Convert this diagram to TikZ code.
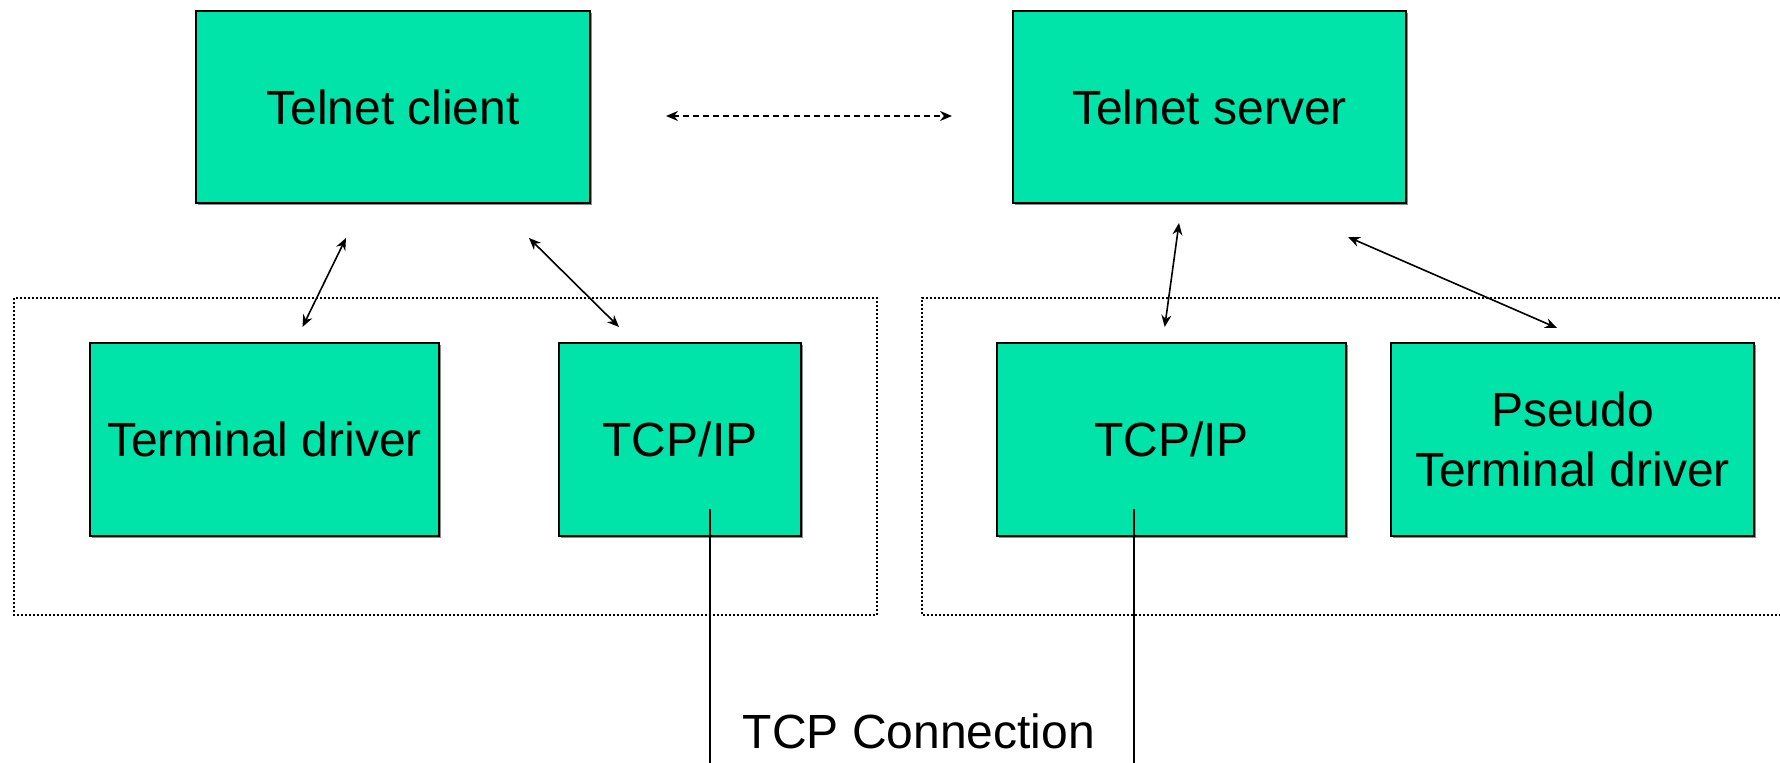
\documentclass[tikz,border=0pt]{standalone}
\usepackage{fontspec}
\setmainfont{Liberation Sans}
\usetikzlibrary{arrows.meta,shadows}
\definecolor{boxgreen}{RGB}{0,228,170}
\begin{document}
\begin{tikzpicture}[x=0.5pt,y=-0.5pt,
  box/.style={draw=black, line width=0.8pt, fill=boxgreen, inner sep=0pt,
    font=\fontsize{24}{30}\selectfont, align=center, text=black,
    general shadow={fill=black!45, shadow xshift=0.8pt, shadow yshift=-0.8pt}},
  lbl/.style={inner sep=0pt, font=\fontsize{24}{29}\selectfont, text=black},
  group/.style={draw=black, line width=0.7pt, dash pattern=on 1pt off 1pt},
  link/.style={draw=black, line width=0.8pt, {Stealth[length=6pt,width=5pt]}-{Stealth[length=6pt,width=5pt]}},
  peer/.style={draw=black, line width=0.8pt, dash pattern=on 3pt off 2pt, {Stealth[length=6pt,width=5pt]}-{Stealth[length=6pt,width=5pt]}},
  wire/.style={draw=black, line width=0.6pt}]
\useasboundingbox (0,0) rectangle (1780,763);
\begin{scope}
\clip (0,0) rectangle (1780,763);
% containers
\draw[group] (14,298) rectangle (877,615);
\draw[group] (1800,298) -- (922,298) -- (922,615) -- (1800,615);
% boxes
\node[box, minimum width=197pt, minimum height=96pt] (client) at (393,107) {Telnet client};
\node[box, minimum width=196.5pt, minimum height=96pt] (server) at (1209.5,107) {Telnet server};
\node[box, minimum width=174.5pt, minimum height=96.5pt] (term) at (264.5,439.5) {Terminal driver};
\node[box, minimum width=121pt, minimum height=96.5pt] (tcpl) at (680,439.5) {TCP/IP};
\node[box, minimum width=174.5pt, minimum height=96.5pt] (tcpr) at (1171.5,439.5) {TCP/IP};
\node[box, minimum width=181.5pt, minimum height=96.5pt] (pty) at (1572.5,439.5) {Pseudo\\Terminal driver};
% free connector ends
\coordinate (c1) at (346,238);   \coordinate (t1) at (302.5,327);
\coordinate (c2) at (529,238);   \coordinate (t2) at (619,327);
\coordinate (s1) at (1179,223);  \coordinate (r1) at (1164.7,327);
\coordinate (s2) at (1348,237);  \coordinate (p2) at (1557,328);
\coordinate (dl) at (666,116);   \coordinate (dr) at (952,116);
\coordinate (wl) at (710,509);   \coordinate (wlb) at (710,775);
\coordinate (wr) at (1134,509);  \coordinate (wrb) at (1134,775);
\draw[link] (c1) -- (t1);
\draw[link] (c2) -- (t2);
\draw[link] (s1) -- (r1);
\draw[link] (s2) -- (p2);
\draw[peer] (dl) -- (dr);
\draw[wire] (wl) -- (wlb);
\draw[wire] (wr) -- (wrb);
\node[lbl, anchor=base] (conn) at (919,748) {TCP Connection};
\end{scope}
\end{tikzpicture}
\end{document}
